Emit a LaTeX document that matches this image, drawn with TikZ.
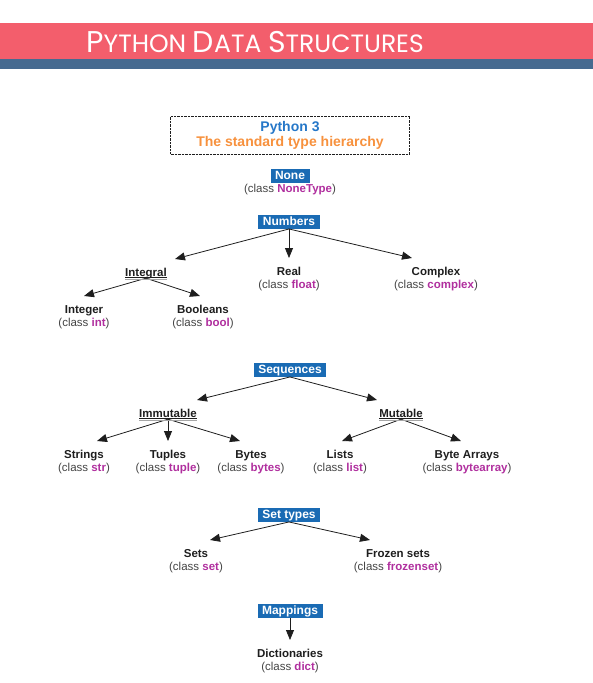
\documentclass[tikz,border=0pt]{standalone}
\usepackage{fontspec}
\setmainfont{Liberation Sans}
\newfontfamily\titlefont{Poppins}
\usetikzlibrary{arrows.meta}

\definecolor{bandred}{HTML}{F35E6C}
\definecolor{bandblue}{HTML}{466A90}
\definecolor{boxblue}{HTML}{1A6BB4}
\definecolor{pyblue}{HTML}{2577C8}
\definecolor{pyorange}{HTML}{F7913D}
\definecolor{classmag}{HTML}{B02F9E}
\definecolor{inkdark}{HTML}{1E1E1E}
\definecolor{inkgrey}{HTML}{444444}

\newcommand{\cls}[1]{\textbf{\color{classmag}#1}}
\newcommand{\kind}[2]{\textbf{\color{inkdark}#1}\\(class \cls{#2})}
\newcommand{\capword}[2]{{\fontsize{30}{30}\selectfont #1}{\fontsize{25}{25}\selectfont #2}}

\begin{document}
\begin{tikzpicture}[x=1pt,y=-1pt,
  category/.style={fill=boxblue,text=white,font=\bfseries\fontsize{12}{12}\selectfont,
    inner xsep=4.5pt,inner ysep=1pt,text height=9pt,text depth=2.5pt},
  leaf/.style={anchor=north,align=center,text=inkgrey,font=\fontsize{11.5}{13}\selectfont,
    inner xsep=2pt,inner ysep=8.5pt,text height=21.5pt,text depth=3pt},
  group/.style={anchor=north,text=inkdark,font=\bfseries\fontsize{11.5}{13}\selectfont,
    inner xsep=2pt,inner ysep=8.5pt,text height=8.5pt,text depth=3pt},
  link/.style={draw=inkdark,line width=0.8pt,-{Triangle[length=10pt,width=8pt]}},
  uline/.style={line width=0.7pt,draw=inkdark},
  ushade/.style={line width=1pt,draw=black!35}]

  \useasboundingbox (0,0) rectangle (593,683);

  % Header
  \fill[bandred] (0,23) rectangle (593,59);
  \fill[bandblue] (0,59) rectangle (593,69);
  \node[text=white,font=\titlefont\fontsize{25}{25}\selectfont,anchor=base] (title) at (255,52)
    {\capword{P}{YTHON} \capword{D}{ATA} \capword{S}{TRUCTURES}};

  % Caption
  \node[draw=inkdark,densely dotted,minimum width=239pt,minimum height=38pt,
    align=center,font=\bfseries\fontsize{14}{15}\selectfont] (caption) at (290,135)
    {\textcolor{pyblue}{Python 3}\\\textcolor{pyorange}{The standard type hierarchy}};

  % None
  \node[category] (none) at (290,176) {None};
  \node[leaf,inner ysep=0pt,text height=8.5pt] (nonetype) at (290,184) {(class \cls{NoneType})};

  % Numbers
  \node[category] (numbers) at (289,222) {Numbers};
  \node[group] (integral) at (146,259) {Integral};
  \node[leaf] (real) at (289,258) {\kind{Real}{float}};
  \node[leaf] (complex) at (436,258) {\kind{Complex}{complex}};
  \node[leaf] (integer) at (84,296) {\kind{Integer}{int}};
  \node[leaf] (booleans) at (203,296) {\kind{Booleans}{bool}};

  \draw[link] (numbers.south) -- ([xshift=29pt]integral.north);
  \draw[link] (numbers.south) -- (real.north);
  \draw[link] (numbers.south) -- ([xshift=-24pt]complex.north);
  \draw[link] ([yshift=-2pt]integral.base) -- (integer.north);
  \draw[link] ([yshift=-2pt]integral.base) -- ([xshift=-3pt]booleans.north);

  % Sequences
  \node[category] (sequences) at (290,370) {Sequences};
  \node[group] (immutable) at (168,400) {Immutable};
  \node[group] (mutable) at (401,400) {Mutable};
  \node[leaf] (strings) at (84,441) {\kind{Strings}{str}};
  \node[leaf] (tuples) at (168,441) {\kind{Tuples}{tuple}};
  \node[leaf] (bytes) at (251,441) {\kind{Bytes}{bytes}};
  \node[leaf] (lists) at (340,441) {\kind{Lists}{list}};
  \node[leaf] (bytearrays) at (467,441) {\kind{Byte Arrays}{bytearray}};

  \draw[link] (sequences.south) -- ([xshift=29pt]immutable.north);
  \draw[link] (sequences.south) -- ([xshift=-24pt]mutable.north);
  \draw[link] ([yshift=-2pt]immutable.base) -- ([xshift=13pt]strings.north);
  \draw[link] ([yshift=-2pt]immutable.base) -- (tuples.north);
  \draw[link] ([yshift=-2pt]immutable.base) -- ([xshift=-11pt]bytes.north);
  \draw[link] ([yshift=-2pt]mutable.base) -- ([xshift=2pt]lists.north);
  \draw[link] ([yshift=-2pt]mutable.base) -- ([xshift=-6pt]bytearrays.north);

  % Set types
  \node[category] (settypes) at (289,515) {Set types};
  \node[leaf] (sets) at (196,540) {\kind{Sets}{set}};
  \node[leaf] (frozensets) at (398,540) {\kind{Frozen sets}{frozenset}};

  \draw[link] (settypes.south) -- ([xshift=14pt]sets.north);
  \draw[link] (settypes.south) -- ([xshift=-28pt]frozensets.north);

  % Mappings
  \node[category] (mappings) at (290,611) {Mappings};
  \node[leaf] (dicts) at (290,640) {\kind{Dictionaries}{dict}};

  \draw[link] (mappings.south) -- (dicts.north);

  % Underlines
  \foreach \g in {integral,immutable,mutable} {
    \draw[ushade] ([xshift=2pt,yshift=-3pt]\g.base west) -- ([xshift=-2pt,yshift=-3pt]\g.base east);
    \draw[uline] ([xshift=2pt,yshift=-1.5pt]\g.base west) -- ([xshift=-2pt,yshift=-1.5pt]\g.base east);
  }

\end{tikzpicture}
\end{document}
